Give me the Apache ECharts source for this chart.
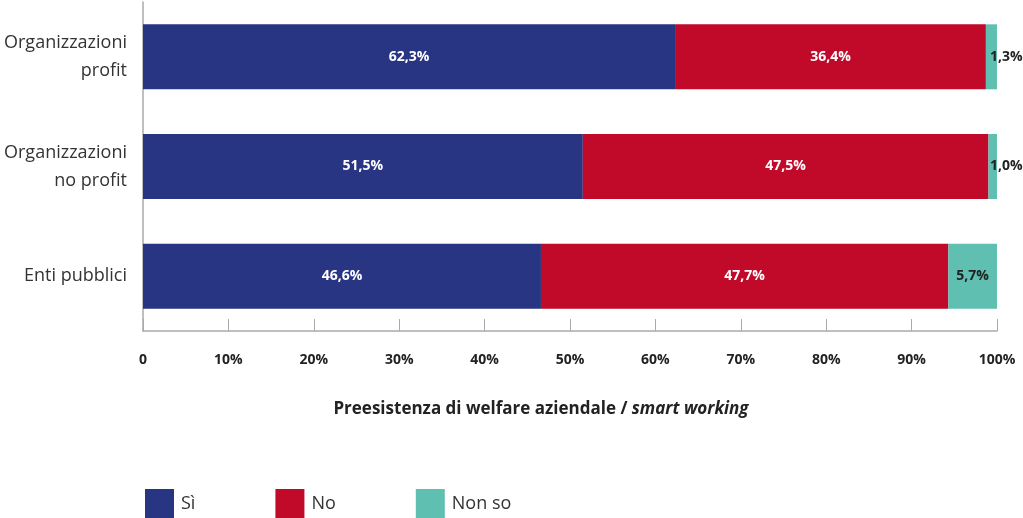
<!DOCTYPE html>
<html>
<head>
<meta charset="utf-8">
<script src="https://cdn.jsdelivr.net/npm/echarts@6/dist/echarts.min.js"></script>
<style>
html, body { margin: 0; padding: 0; background: #fff; }
#main { width: 1023px; height: 518px; }
</style>
</head>
<body>
<div id="main"></div>
<script>
// dati
var categories = ['Organizzazioni\nprofit', 'Organizzazioni\nno profit', 'Enti pubblici'];
var si = [62.3, 51.5, 46.6];
var no = [36.4, 47.5, 47.7];
var nonSo = [1.3, 1.0, 5.7];

var FONT = '"Open Sans", sans-serif';
var fmt = function (v) { return v.toFixed(1).replace('.', ',') + '%'; };

var chartDom = document.getElementById('main');
var myChart = echarts.init(chartDom);

// le etichette piccole di "Non so" vanno fuori dalla barra
var nonSoData = nonSo.map(function (v) {
    return {
        value: v,
        label: v < 3 ? { position: 'right', distance: -7 } : { position: 'inside' }
    };
});

var option = {
    animation: false,
    textStyle: { fontFamily: FONT },
    grid: { left: 143, right: 26, top: 2, height: 329, containLabel: false },
    legend: {
        left: 140,
        top: 484,
        itemWidth: 29,
        itemHeight: 29,
        itemGap: 80,
        icon: 'rect',
        textStyle: { fontSize: 18, color: '#333', fontFamily: FONT, padding: [0, 0, 0, 2] },
        data: ['Sì', 'No', 'Non so']
    },
    xAxis: {
        type: 'value',
        min: 0,
        max: 100,
        interval: 10,
        name: '{b|Preesistenza di welfare aziendale / }{i|smart working}',
        nameLocation: 'middle',
        nameGap: 70,
        nameTextStyle: {
            padding: [0, 58, 0, 0],
            rich: {
                b: { fontSize: 17, fontWeight: 'bold', color: '#222', fontFamily: FONT },
                i: { fontSize: 17, fontWeight: 'bold', fontStyle: 'italic', color: '#222', fontFamily: FONT }
            }
        },
        axisLine: { show: true, lineStyle: { color: '#aaa', width: 1.5 } },
        axisTick: { show: true, inside: true, length: 12, lineStyle: { color: '#aaa' } },
        splitLine: { show: false },
        axisLabel: {
            margin: 22,
            fontSize: 14,
            fontWeight: 'bold',
            color: '#222',
            fontFamily: FONT,
            formatter: function (v) { return v === 0 ? '0' : v + '%'; }
        }
    },
    yAxis: {
        type: 'category',
        inverse: true,
        data: categories,
        axisLine: { show: true, lineStyle: { color: '#aaa', width: 1.5 } },
        axisTick: { show: false },
        axisLabel: {
            margin: 16,
            fontSize: 18,
            color: '#333',
            lineHeight: 28,
            align: 'right',
            fontFamily: FONT
        }
    },
    series: [
        {
            name: 'Sì', type: 'bar', stack: 'tot', barWidth: 65,
            itemStyle: { color: '#283583' },
            label: { show: true, position: 'inside', color: '#fff', fontWeight: 'bold', fontSize: 14, fontFamily: FONT,
                formatter: function (p) { return fmt(p.value); } },
            data: si
        },
        {
            name: 'No', type: 'bar', stack: 'tot', barWidth: 65,
            itemStyle: { color: '#C1092A' },
            label: { show: true, position: 'inside', color: '#fff', fontWeight: 'bold', fontSize: 14, fontFamily: FONT,
                formatter: function (p) { return fmt(p.value); } },
            data: no
        },
        {
            name: 'Non so', type: 'bar', stack: 'tot', barWidth: 65,
            itemStyle: { color: '#5FBFB0' },
            label: { show: true, color: '#222', fontWeight: 'bold', fontSize: 14, fontFamily: FONT,
                formatter: function (p) { return fmt(p.value); } },
            data: nonSoData
        }
    ]
};
option && myChart.setOption(option);
</script>
</body>
</html>
